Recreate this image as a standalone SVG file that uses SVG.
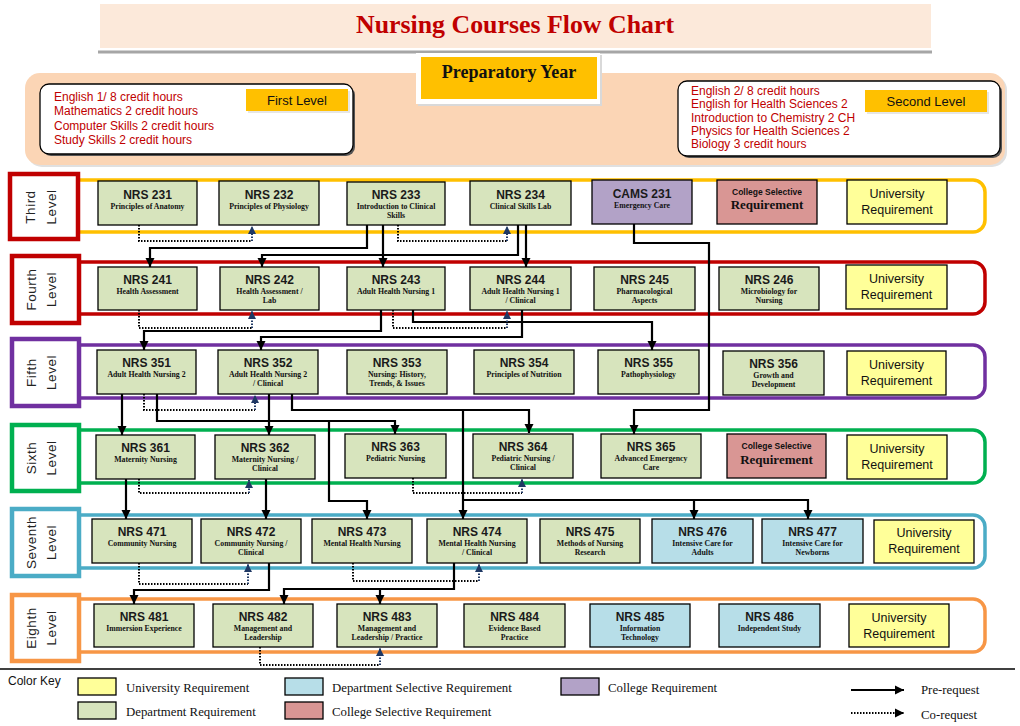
<svg xmlns="http://www.w3.org/2000/svg" width="1020" height="726" viewBox="0 0 1020 726">
<style>
.dr{fill:#d7e4bd;stroke:#000;stroke-width:1.3}
.ur{fill:#ffff99;stroke:#000;stroke-width:1.3}
.ds{fill:#b7dee8;stroke:#000;stroke-width:1.3}
.cr{fill:#b2a2c7;stroke:#000;stroke-width:1.3}
.cs{fill:#d99694;stroke:#000;stroke-width:1.3}
.t{font-family:"Liberation Sans",Arial,sans-serif;font-weight:bold;font-size:12px;text-anchor:middle;fill:#1a1a1a}
.s{font-family:"Liberation Serif","Times New Roman",serif;font-weight:bold;font-size:7.8px;text-anchor:middle;fill:#111}
.u{font-family:"Liberation Sans",Arial,sans-serif;font-size:12.5px;text-anchor:middle;fill:#111}
.csa{font-family:"Liberation Sans",Arial,sans-serif;font-weight:bold;font-size:8.5px;text-anchor:middle;fill:#111}
.csb{font-family:"Liberation Serif","Times New Roman",serif;font-weight:bold;font-size:13px;text-anchor:middle;fill:#111}
.band{fill:none;stroke-width:3.5}
.lbl{fill:#fff;stroke-width:4.5}
.lt{font-family:"Liberation Sans",Arial,sans-serif;font-size:13.5px;letter-spacing:0.5px;text-anchor:middle;fill:#222}
.prep{font-family:"Liberation Sans",Arial,sans-serif;font-size:12px;fill:#c00000}
.btn{fill:#ffc000}
.bt{font-family:"Liberation Sans",Arial,sans-serif;font-size:13px;text-anchor:middle;fill:#111}
.pr{fill:none;stroke:#000;stroke-width:2.2;marker-end:url(#ah)}
.pl{fill:none;stroke:#000;stroke-width:2.2}
.cd{fill:none;stroke:#000;stroke-width:2;stroke-dasharray:1.5 1.5}
.cu{fill:none;stroke:#1f3864;stroke-width:2;stroke-dasharray:1.5 1.5;marker-end:url(#ahb)}
.lg{font-family:"Liberation Serif","Times New Roman",serif;font-size:12.8px;fill:#111}
</style>
<defs>
<marker id="ah" markerUnits="userSpaceOnUse" markerWidth="10" markerHeight="10" refX="9" refY="5" orient="auto"><path d="M0,0.5 L9,5 L0,9.5 z" fill="#000"/></marker>
<marker id="ahb" markerUnits="userSpaceOnUse" markerWidth="10" markerHeight="10" refX="8" refY="4.5" orient="auto"><path d="M0,0.5 L8,4.5 L0,8.5 z" fill="#1f3864"/></marker>
</defs>
<rect width="1020" height="726" fill="#fff"/>

<!-- Header -->
<g id="title">
<rect x="100" y="4" width="831" height="44" fill="#fce9da"/>
<text x="515" y="33" font-family="'Liberation Serif','Times New Roman',serif" font-weight="bold" font-size="26" fill="#c00000" text-anchor="middle" textLength="318" lengthAdjust="spacingAndGlyphs">Nursing Courses Flow Chart</text>
<line x1="98" y1="52" x2="932" y2="52" stroke="#a6a6a6" stroke-width="3"/>
</g>

<g id="preparatory">
<rect x="27" y="75" width="980" height="92" rx="15" fill="#e0e0e0"/>
<rect x="25" y="73" width="980" height="92" rx="15" fill="#fbd5b5"/>
<rect x="418" y="55" width="184" height="51" fill="#d9d9d9"/>
<rect x="416" y="53" width="184" height="51" fill="#fff"/>
<rect x="421" y="57" width="176" height="42" fill="#ffc000"/>
<text x="509" y="78" font-family="'Liberation Serif','Times New Roman',serif" font-weight="bold" font-size="18" text-anchor="middle" fill="#111">Preparatory Year</text>
</g>

<g id="first-level">
<rect x="42" y="86" width="313" height="70" rx="9" fill="#555"/>
<rect x="40" y="84" width="313" height="70" rx="9" fill="#fff" stroke="#000" stroke-width="1.3"/>
<rect x="248" y="91" width="102" height="22" fill="#e6e6e6"/>
<rect x="246" y="89" width="102" height="22" class="btn"/>
<text class="bt" x="297" y="105">First Level</text>
<text class="prep" x="54" y="101">English 1/ 8 credit hours</text>
<text class="prep" x="54" y="115">Mathematics 2 credit hours</text>
<text class="prep" x="54" y="130">Computer Skills 2 credit hours</text>
<text class="prep" x="54" y="144">Study Skills 2 credit hours</text>
</g>

<g id="second-level">
<rect x="680" y="83" width="322" height="75" rx="9" fill="#555"/>
<rect x="678" y="81" width="322" height="75" rx="9" fill="#fff" stroke="#000" stroke-width="1.3"/>
<rect x="867" y="92" width="122" height="22" fill="#e6e6e6"/>
<rect x="865" y="90" width="122" height="22" class="btn"/>
<text class="bt" x="926" y="106">Second Level</text>
<text class="prep" x="691" y="95">English 2/ 8 credit hours</text>
<text class="prep" x="691" y="108">English for Health Sciences 2</text>
<text class="prep" x="691" y="122">Introduction to Chemistry 2 CH</text>
<text class="prep" x="691" y="135">Physics for Health Sciences 2</text>
<text class="prep" x="691" y="148">Biology 3 credit hours</text>
</g>

<!-- Level bands -->
<g id="bands">
<path class="band" stroke="#ffc000" d="M78,180 H973 A12,12 0 0 1 985,192 V220 A12,12 0 0 1 973,232 H78"/>
<path class="band" stroke="#c00000" d="M78,262 H973 A12,12 0 0 1 985,274 V302 A12,12 0 0 1 973,314 H78"/>
<path class="band" stroke="#7030a0" d="M78,345 H973 A12,12 0 0 1 985,357 V386 A12,12 0 0 1 973,398 H78"/>
<path class="band" stroke="#00b050" d="M78,430 H973 A12,12 0 0 1 985,442 V471 A12,12 0 0 1 973,483 H78"/>
<path class="band" stroke="#4bacc6" d="M78,515 H973 A12,12 0 0 1 985,527 V556 A12,12 0 0 1 973,568 H78"/>
<path class="band" stroke="#f79646" d="M78,599 H973 A12,12 0 0 1 985,611 V640 A12,12 0 0 1 973,652 H78"/>
</g>

<g id="level-third"><rect class="lbl" stroke="#c00000" x="10" y="174" width="68" height="65"/>
<text class="lt" transform="translate(35,207) rotate(-90)">Third</text><text class="lt" transform="translate(56,207) rotate(-90)">Level</text></g>
<g id="level-fourth"><rect class="lbl" stroke="#c00000" x="12" y="256" width="67" height="67"/>
<text class="lt" transform="translate(36,289.5) rotate(-90)">Fourth</text><text class="lt" transform="translate(56,289.5) rotate(-90)">Level</text></g>
<g id="level-fifth"><rect class="lbl" stroke="#7030a0" x="12" y="339" width="67" height="67"/>
<text class="lt" transform="translate(36,372.5) rotate(-90)">Fifth</text><text class="lt" transform="translate(56,372.5) rotate(-90)">Level</text></g>
<g id="level-sixth"><rect class="lbl" stroke="#00b050" x="12" y="425" width="67" height="66"/>
<text class="lt" transform="translate(36,458) rotate(-90)">Sixth</text><text class="lt" transform="translate(56,458) rotate(-90)">Level</text></g>
<g id="level-seventh"><rect class="lbl" stroke="#4bacc6" x="12" y="509" width="67" height="67"/>
<text class="lt" transform="translate(36,542.5) rotate(-90)">Seventh</text><text class="lt" transform="translate(56,542.5) rotate(-90)">Level</text></g>
<g id="level-eighth"><rect class="lbl" stroke="#f79646" x="12" y="595" width="67" height="66"/>
<text class="lt" transform="translate(36,628) rotate(-90)">Eighth</text><text class="lt" transform="translate(56,628) rotate(-90)">Level</text></g>

<!-- Third level nodes -->
<g id="nrs231"><rect class="dr" x="98" y="181" width="99" height="44"/><text class="t" x="147.5" y="199">NRS 231</text><text class="s" x="147.5" y="209">Principles of Anatomy</text></g>
<g id="nrs232"><rect class="dr" x="219" y="181" width="100" height="44"/><text class="t" x="269" y="199">NRS 232</text><text class="s" x="269" y="209">Principles of Physiology</text></g>
<g id="nrs233"><rect class="dr" x="347" y="182" width="98" height="43"/><text class="t" x="396" y="199">NRS 233</text><text class="s" x="396" y="209">Introduction to Clinical</text><text class="s" x="396" y="218">Skills</text></g>
<g id="nrs234"><rect class="dr" x="470" y="181" width="101" height="44"/><text class="t" x="520.5" y="199">NRS 234</text><text class="s" x="520.5" y="209">Clinical Skills Lab</text></g>
<g id="cams231"><rect class="cr" x="592" y="180" width="100" height="44"/><text class="t" x="642" y="198">CAMS 231</text><text class="s" x="642" y="208">Emergency Care</text></g>
<g id="cs3"><rect class="cs" x="717" y="180" width="100" height="44"/><text class="csa" x="767" y="195">College Selective</text><text class="csb" x="767" y="209">Requirement</text></g>
<g id="ur3"><rect class="ur" x="847" y="180" width="100" height="44"/><text class="u" x="897" y="198">University</text><text class="u" x="897" y="214">Requirement</text></g>

<!-- Fourth level nodes -->
<g id="nrs241"><rect class="dr" x="98" y="267" width="99" height="43"/><text class="t" x="147.5" y="284">NRS 241</text><text class="s" x="147.5" y="294">Health Assessment</text></g>
<g id="nrs242"><rect class="dr" x="220" y="267" width="99" height="43"/><text class="t" x="269.5" y="284">NRS 242</text><text class="s" x="269.5" y="294">Health Assessment /</text><text class="s" x="269.5" y="303">Lab</text></g>
<g id="nrs243"><rect class="dr" x="347" y="267" width="98" height="43"/><text class="t" x="396" y="284">NRS 243</text><text class="s" x="396" y="294">Adult Health Nursing 1</text></g>
<g id="nrs244"><rect class="dr" x="470" y="267" width="101" height="43"/><text class="t" x="520.5" y="284">NRS 244</text><text class="s" x="520.5" y="294">Adult Health Nursing 1</text><text class="s" x="520.5" y="303">/ Clinical</text></g>
<g id="nrs245"><rect class="dr" x="594" y="267" width="101" height="43"/><text class="t" x="644.5" y="284">NRS 245</text><text class="s" x="644.5" y="294">Pharmacological</text><text class="s" x="644.5" y="303">Aspects</text></g>
<g id="nrs246"><rect class="dr" x="719" y="267" width="100" height="43"/><text class="t" x="769" y="284">NRS 246</text><text class="s" x="769" y="294">Microbiology for</text><text class="s" x="769" y="303">Nursing</text></g>
<g id="ur4"><rect class="ur" x="846" y="265" width="101" height="44"/><text class="u" x="896.5" y="283">University</text><text class="u" x="896.5" y="299">Requirement</text></g>

<!-- Fifth level nodes -->
<g id="nrs351"><rect class="dr" x="97" y="350" width="99" height="44"/><text class="t" x="146.5" y="367">NRS 351</text><text class="s" x="146.5" y="377">Adult Health Nursing 2</text></g>
<g id="nrs352"><rect class="dr" x="218" y="350" width="100" height="44"/><text class="t" x="268" y="367">NRS 352</text><text class="s" x="268" y="377">Adult Health Nursing 2</text><text class="s" x="268" y="386">/ Clinical</text></g>
<g id="nrs353"><rect class="dr" x="347" y="350" width="100" height="44"/><text class="t" x="397" y="367">NRS 353</text><text class="s" x="397" y="377">Nursing: History,</text><text class="s" x="397" y="386">Trends, &amp; Issues</text></g>
<g id="nrs354"><rect class="dr" x="474" y="350" width="100" height="44"/><text class="t" x="524" y="367">NRS 354</text><text class="s" x="524" y="377">Principles of Nutrition</text></g>
<g id="nrs355"><rect class="dr" x="598" y="350" width="101" height="44"/><text class="t" x="648.5" y="367">NRS 355</text><text class="s" x="648.5" y="377">Pathophysiology</text></g>
<g id="nrs356"><rect class="dr" x="723" y="351" width="101" height="44"/><text class="t" x="773.5" y="368">NRS 356</text><text class="s" x="773.5" y="378">Growth and</text><text class="s" x="773.5" y="387">Development</text></g>
<g id="ur5"><rect class="ur" x="847" y="351" width="99" height="44"/><text class="u" x="896.5" y="369">University</text><text class="u" x="896.5" y="385">Requirement</text></g>

<!-- Sixth level nodes -->
<g id="nrs361"><rect class="dr" x="96" y="435" width="99" height="44"/><text class="t" x="145.5" y="452">NRS 361</text><text class="s" x="145.5" y="462">Maternity Nursing</text></g>
<g id="nrs362"><rect class="dr" x="215" y="435" width="100" height="44"/><text class="t" x="265" y="452">NRS 362</text><text class="s" x="265" y="462">Maternity Nursing /</text><text class="s" x="265" y="471">Clinical</text></g>
<g id="nrs363"><rect class="dr" x="345" y="434" width="101" height="44"/><text class="t" x="395.5" y="451">NRS 363</text><text class="s" x="395.5" y="461">Pediatric Nursing</text></g>
<g id="nrs364"><rect class="dr" x="473" y="434" width="100" height="44"/><text class="t" x="523" y="451">NRS 364</text><text class="s" x="523" y="461">Pediatric Nursing /</text><text class="s" x="523" y="470">Clinical</text></g>
<g id="nrs365"><rect class="dr" x="601" y="434" width="100" height="44"/><text class="t" x="651" y="451">NRS 365</text><text class="s" x="651" y="461">Advanced Emergency</text><text class="s" x="651" y="470">Care</text></g>
<g id="cs6"><rect class="cs" x="727" y="434" width="99" height="44"/><text class="csa" x="776.5" y="449">College Selective</text><text class="csb" x="776.5" y="464">Requirement</text></g>
<g id="ur6"><rect class="ur" x="847" y="435" width="100" height="44"/><text class="u" x="897" y="453">University</text><text class="u" x="897" y="469">Requirement</text></g>

<!-- Seventh level nodes -->
<g id="nrs471"><rect class="dr" x="92" y="519" width="100" height="44"/><text class="t" x="142" y="536">NRS 471</text><text class="s" x="142" y="546">Community Nursing</text></g>
<g id="nrs472"><rect class="dr" x="201" y="519" width="100" height="44"/><text class="t" x="251" y="536">NRS 472</text><text class="s" x="251" y="546">Community Nursing /</text><text class="s" x="251" y="555">Clinical</text></g>
<g id="nrs473"><rect class="dr" x="312" y="519" width="100" height="44"/><text class="t" x="362" y="536">NRS 473</text><text class="s" x="362" y="546">Mental Health Nursing</text></g>
<g id="nrs474"><rect class="dr" x="427" y="519" width="100" height="44"/><text class="t" x="477" y="536">NRS 474</text><text class="s" x="477" y="546">Mental Health Nursing</text><text class="s" x="477" y="555">/ Clinical</text></g>
<g id="nrs475"><rect class="dr" x="540" y="519" width="100" height="44"/><text class="t" x="590" y="536">NRS 475</text><text class="s" x="590" y="546">Methods of Nursing</text><text class="s" x="590" y="555">Research</text></g>
<g id="nrs476"><rect class="ds" x="652" y="519" width="101" height="44"/><text class="t" x="702.5" y="536">NRS 476</text><text class="s" x="702.5" y="546">Intensive Care for</text><text class="s" x="702.5" y="555">Adults</text></g>
<g id="nrs477"><rect class="ds" x="762" y="519" width="101" height="44"/><text class="t" x="812.5" y="536">NRS 477</text><text class="s" x="812.5" y="546">Intensive Care for</text><text class="s" x="812.5" y="555">Newborns</text></g>
<g id="ur7"><rect class="ur" x="874" y="520" width="100" height="43"/><text class="u" x="924" y="537">University</text><text class="u" x="924" y="553">Requirement</text></g>

<!-- Eighth level nodes -->
<g id="nrs481"><rect class="dr" x="94" y="604" width="100" height="43"/><text class="t" x="144" y="621">NRS 481</text><text class="s" x="144" y="631">Immersion Experience</text></g>
<g id="nrs482"><rect class="dr" x="213" y="604" width="100" height="43"/><text class="t" x="263" y="621">NRS 482</text><text class="s" x="263" y="631">Management and</text><text class="s" x="263" y="640">Leadership</text></g>
<g id="nrs483"><rect class="dr" x="337" y="604" width="100" height="43"/><text class="t" x="387" y="621">NRS 483</text><text class="s" x="387" y="631">Management and</text><text class="s" x="387" y="640">Leadership / Practice</text></g>
<g id="nrs484"><rect class="dr" x="464" y="604" width="101" height="43"/><text class="t" x="514.5" y="621">NRS 484</text><text class="s" x="514.5" y="631">Evidence Based</text><text class="s" x="514.5" y="640">Practice</text></g>
<g id="nrs485"><rect class="ds" x="590" y="604" width="100" height="43"/><text class="t" x="640" y="621">NRS 485</text><text class="s" x="640" y="631">Information</text><text class="s" x="640" y="640">Technology</text></g>
<g id="nrs486"><rect class="ds" x="719" y="604" width="101" height="43"/><text class="t" x="769.5" y="621">NRS 486</text><text class="s" x="769.5" y="631">Independent Study</text></g>
<g id="ur8"><rect class="ur" x="849" y="604" width="100" height="43"/><text class="u" x="899" y="622">University</text><text class="u" x="899" y="638">Requirement</text></g>

<!-- Connectors -->
<g id="connectors">
<polyline class="pr" points="367,225 367,248 150,248 150,267"/>
<polyline class="pr" points="518,225 518,255 262,255 262,267"/>
<polyline class="pr" points="383,225 383,267"/>
<polyline class="pr" points="526,225 526,267"/>
<polyline class="pr" points="634,224 634,243 709,243 709,410 634,410 634,434"/>
<polyline class="pr" points="381,310 381,331 144,331 144,350"/>
<polyline class="pr" points="522,310 522,337 261,337 261,350"/>
<polyline class="pr" points="413,310 413,322 652,322 652,350"/>
<polyline class="pr" points="122,394 122,435"/>
<polyline class="pr" points="157,394 157,421 395,421 395,434"/>
<polyline class="pr" points="329,421 329,501 367,501 367,519"/>
<polyline class="pr" points="269,394 269,435"/>
<polyline class="pr" points="292,394 292,410 529,410 529,433"/>
<polyline class="pr" points="463,410 463,519"/>
<polyline class="pr" points="463,500 694,500 694,519"/>
<polyline class="pr" points="694,500 808,500 808,519"/>
<polyline class="pr" points="126,479 126,519"/>
<polyline class="pr" points="266,479 266,519"/>
<polyline class="pr" points="269,563 269,590 134,590 134,604"/>
<polyline class="pr" points="454,563 454,589 284,589 284,604"/>
<polyline class="pr" points="380,589 380,604"/>

<polyline class="cd" points="139,225 139,241 252,241"/><polyline class="cu" points="252,241 252,226"/>
<polyline class="cd" points="398,225 398,241 507,241"/><polyline class="cu" points="507,241 507,226"/>
<polyline class="cd" points="139,310 139,328 252,328"/><polyline class="cu" points="252,328 252,311"/>
<polyline class="cd" points="393,310 393,328 507,328"/><polyline class="cu" points="507,328 507,311"/>
<polyline class="cd" points="144,394 144,410 255,410"/><polyline class="cu" points="255,410 255,395"/>
<polyline class="cd" points="139,479 139,493 249,493"/><polyline class="cu" points="249,493 249,480"/>
<polyline class="cd" points="413,478 413,493 522,493"/><polyline class="cu" points="522,493 522,479"/>
<polyline class="cd" points="139,563 139,584 248,584"/><polyline class="cu" points="248,584 248,564"/>
<polyline class="cd" points="353,563 353,581 479,581"/><polyline class="cu" points="479,581 479,564"/>
<polyline class="cd" points="260,647 260,665 380,665"/><polyline class="cu" points="380,665 380,648"/>
</g>

<!-- Legend -->
<g id="legend">
<line x1="0" y1="669" x2="1015" y2="669" stroke="#000" stroke-width="1.3"/>
<text x="8" y="685" font-family="'Liberation Sans',Arial,sans-serif" font-size="12" fill="#111">Color Key</text>
<rect class="ur" x="78" y="678" width="38" height="17"/><text class="lg" x="126" y="692">University Requirement</text>
<rect class="dr" x="78" y="702" width="38" height="17"/><text class="lg" x="126" y="716">Department Requirement</text>
<rect class="ds" x="285" y="678" width="38" height="17"/><text class="lg" x="332" y="692">Department Selective Requirement</text>
<rect class="cs" x="285" y="702" width="38" height="17"/><text class="lg" x="332" y="716">College Selective Requirement</text>
<rect class="cr" x="561" y="678" width="38" height="17"/><text class="lg" x="608" y="692">College Requirement</text>
<line x1="851" y1="690" x2="904" y2="690" stroke="#000" stroke-width="2" marker-end="url(#ah)"/>
<text class="lg" x="921" y="694">Pre-request</text>
<line x1="851" y1="713" x2="904" y2="713" stroke="#000" stroke-width="2" stroke-dasharray="1.5 1.5" marker-end="url(#ah)"/>
<text class="lg" x="921" y="719">Co-request</text>
</g>
</svg>
